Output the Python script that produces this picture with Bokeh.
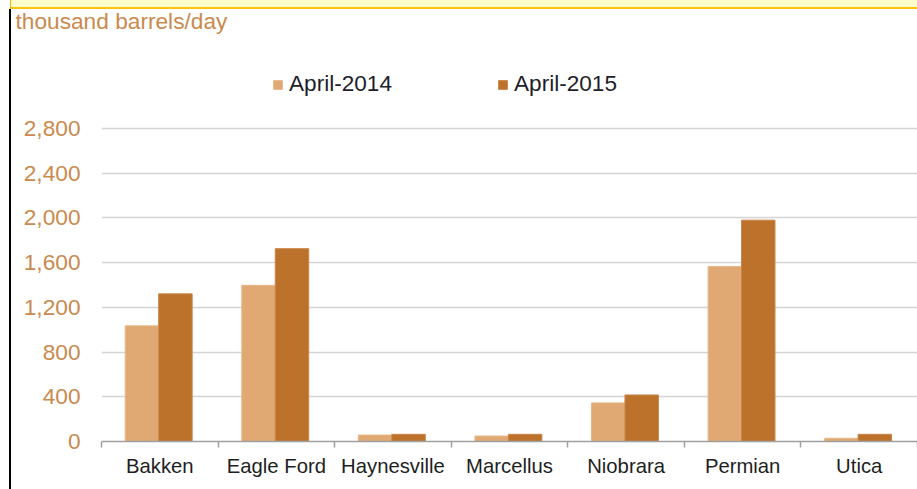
import numpy as np
from bokeh.plotting import figure
from bokeh.models import (ColumnDataSource, Range1d, FixedTicker, NumeralTickFormatter,
                          Legend, LegendItem)
from bokeh.transform import dodge
from bokeh.embed import file_html
from bokeh.resources import INLINE

# ---- data ----
categories = ["Bakken", "Eagle Ford", "Haynesville", "Marcellus", "Niobrara", "Permian", "Utica"]
april_2014 = [1034, 1396, 58, 49, 345, 1565, 29]
april_2015 = [1320, 1724, 64, 64, 416, 1979, 64]
y_ticks = [0, 400, 800, 1200, 1600, 2000, 2400, 2800]
series_names = ["April-2014", "April-2015"]
unit_label = "thousand barrels/day"

LIGHT = "#E0A872"
DARK = "#BC722A"
TAN_TEXT = "#C98A4E"
FONT = "Liberation Sans"

centers = np.arange(len(categories)) + 0.5
src = ColumnDataSource(dict(x=centers, a=april_2014, b=april_2015, cat=categories))

TOP = 34
frame_h = 441 - TOP
y_end = 2800 * frame_h / 313.2

p = figure(width=917, height=489, output_backend="svg", toolbar_location=None,
           x_range=Range1d(0, 7.0), y_range=Range1d(0, y_end),
           min_border_left=101, min_border_right=0, min_border_top=TOP, min_border_bottom=48,
           title=unit_label)

# page decoration seen in the reference screenshot (yellow band on top, dark rule on the left)
p.border_fill_alpha = 0
p.styles = {
    "background": ("linear-gradient(#000,#000) 9px 9px / 2px 100% no-repeat, "
                   "linear-gradient(#F5B800,#F5B800) 10px 0px / 1px 9px no-repeat, "
                   "linear-gradient(#FFC20E,#FFC20E) 10px 7px / 100% 2px no-repeat, "
                   "linear-gradient(#FFFFCC,#FFFFCC) 10px 0px / 100% 7px no-repeat, "
                   "#FFFFFF")
}

p.title.text_font = FONT
p.title.text_font_size = "22.7px"
p.title.text_font_style = "normal"
p.title.text_color = TAN_TEXT
p.title.align = "left"
p.title.offset = -86
p.title.standoff = 2

r1 = p.vbar(x=dodge("x", -0.153, range=p.x_range), top="a", width=0.287, source=src,
            fill_color=LIGHT, line_color="#E8B88A", line_width=1)
r2 = p.vbar(x=dodge("x", 0.134, range=p.x_range), top="b", width=0.287, source=src,
            fill_color=DARK, line_color="#C9854A", line_width=1)

p.outline_line_color = None
p.background_fill_color = "white"
p.xgrid.grid_line_color = None
p.ygrid.grid_line_color = "#D4D4D4"
p.ygrid.grid_line_width = 1.3

# y axis
p.yaxis.ticker = FixedTicker(ticks=y_ticks)
p.yaxis.formatter = NumeralTickFormatter(format="0,0")
p.yaxis.axis_line_color = None
p.yaxis.major_tick_line_color = None
p.yaxis.minor_tick_line_color = None
p.yaxis.major_tick_out = 0
p.yaxis.major_tick_in = 0
p.yaxis.major_label_standoff = 21
p.yaxis.major_label_text_color = TAN_TEXT
p.yaxis.major_label_text_font = FONT
p.yaxis.major_label_text_font_size = "22.7px"

# x axis: labels at centres, ticks at boundaries
p.xaxis.ticker = FixedTicker(ticks=list(centers), minor_ticks=list(range(len(categories) + 1)))
p.xaxis.major_label_overrides = {float(c): n for c, n in zip(centers, categories)}
p.xaxis.axis_line_color = "#A0A0A0"
p.xaxis.axis_line_width = 1.5
p.xaxis.major_tick_line_color = None
p.xaxis.major_tick_out = 0
p.xaxis.major_tick_in = 0
p.xaxis.minor_tick_line_color = "#A0A0A0"
p.xaxis.minor_tick_line_width = 1.5
p.xaxis.minor_tick_out = 6
p.xaxis.minor_tick_in = 0
p.xaxis.major_label_standoff = 7
p.xaxis.major_label_text_color = "#1E1E1E"
p.xaxis.major_label_text_font = FONT
p.xaxis.major_label_text_font_size = "20.3px"

# legend inside the (extended) frame, above the 2,800 gridline
legend = Legend(items=[LegendItem(label=series_names[0], renderers=[r1]),
                       LegendItem(label=series_names[1], renderers=[r2])],
                orientation="horizontal", location=(171, 344),
                glyph_width=11, glyph_height=11, label_standoff=6, spacing=105,
                padding=0, margin=0, border_line_color=None, background_fill_alpha=0,
                label_text_font=FONT, label_text_font_size="22.6px", label_text_color="#1E1E2A")
p.add_layout(legend, "center")

open("out.html", "w").write(file_html(p, INLINE))
